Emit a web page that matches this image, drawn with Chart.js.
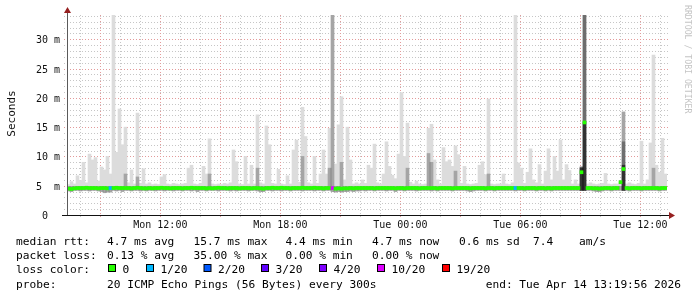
<!DOCTYPE html>
<html>
<head>
<meta charset="utf-8">
<script src="https://cdn.jsdelivr.net/npm/chart.js@4.4.1/dist/chart.umd.min.js"></script>
<style>
  html, body { margin: 0; padding: 0; background: #fff; }
  #wrap { width: 697px; height: 297px; }
</style>
</head>
<body>
<div id="wrap"><canvas id="smoke" width="697" height="297"></canvas></div>
<script>
// time window: Mon 07:20 -> Tue 13:20, one sample every 9 minutes
const startHour = 7 + 20 / 60;
const endHour = startHour + 30;
const yTop = 34.15;

const tickHours = [12, 18, 24, 30, 36];
const tickLabels = ['Mon 12:00', 'Mon 18:00', 'Tue 00:00', 'Tue 06:00', 'Tue 12:00'];
const yTicks = [0, 5, 10, 15, 20, 25, 30];

// highest ping of each sample (ms)
const pingMax = [
  5.2, 5.7, 5.3, 6.7, 5.9, 9.0, 5.5, 10.4, 9.4, 9.8, 5.8, 8.2, 7.7, 10.0, 7.0, 34.1, 10.7, 18.1, 12.0, 15.0,
  5.5, 7.7, 5.3, 17.4, 5.4, 7.9, 5.3, 5.5, 5.2, 5.3, 5.2, 6.5, 6.9, 5.3, 5.2, 5.4, 5.3, 5.2, 5.3, 5.4,
  8.0, 8.5, 5.3, 5.2, 5.4, 8.3, 7.0, 13.0, 5.3, 5.2, 5.3, 5.2, 5.4, 5.3, 5.5, 11.1, 9.1, 5.3, 5.2, 10.0,
  5.3, 8.5, 5.3, 17.1, 5.5, 5.3, 15.2, 12.0, 5.4, 5.3, 7.8, 5.3, 5.2, 6.7, 5.3, 11.1, 12.8, 5.6, 18.4, 13.4,
  5.5, 5.3, 10.0, 5.4, 7.0, 11.1, 7.0, 14.8, 34.2, 8.7, 15.4, 20.2, 6.0, 15.0, 9.4, 5.3, 5.5, 5.3, 6.0, 5.4,
  8.5, 8.0, 12.1, 5.5, 5.3, 7.0, 12.5, 8.3, 6.8, 6.2, 10.4, 20.9, 10.0, 15.7, 5.6, 5.3, 5.8, 5.3, 5.2, 5.3,
  14.8, 15.5, 9.4, 6.0, 5.3, 11.5, 9.1, 9.4, 8.3, 11.8, 10.3, 5.4, 8.3, 5.3, 5.2, 5.3, 5.4, 8.5, 9.1, 6.9,
  19.8, 5.3, 5.2, 5.3, 5.3, 7.0, 5.3, 5.2, 5.5, 34.1, 8.9, 8.0, 5.4, 7.3, 11.3, 6.0, 5.5, 8.6, 5.3, 7.5,
  11.3, 6.0, 10.0, 7.5, 12.8, 6.0, 8.6, 7.6, 5.3, 6.0, 5.3, 8.2, 34.2, 5.3, 5.5, 5.3, 5.2, 5.3, 5.4, 7.1,
  5.3, 5.2, 5.3, 5.3, 5.6, 17.6, 5.3, 5.5, 5.3, 5.2, 5.4, 12.6, 5.3, 6.0, 12.3, 27.3, 8.5, 7.3, 13.1, 7.0
];

// upper part of the ping spread (darker smoke)
const pingUpper = [
  4.9, 4.9, 4.9, 4.9, 4.9, 4.9, 4.9, 4.9, 4.9, 4.9, 4.9, 4.9, 4.9, 4.9, 4.9, 4.9, 4.9, 4.9, 4.9, 7.0,
  4.9, 4.9, 4.9, 6.5, 4.9, 4.9, 4.9, 4.9, 4.9, 4.9, 4.9, 4.9, 4.9, 4.9, 4.9, 4.9, 4.9, 4.9, 4.9, 4.9,
  4.9, 4.9, 4.9, 4.9, 4.9, 4.9, 4.9, 7.0, 4.9, 4.9, 4.9, 4.9, 4.9, 4.9, 4.9, 4.9, 4.9, 4.9, 4.9, 4.9,
  4.9, 4.9, 4.9, 8.0, 4.9, 4.9, 4.9, 4.9, 4.9, 4.9, 4.9, 4.9, 4.9, 4.9, 4.9, 4.9, 4.9, 4.9, 10.0, 4.9,
  4.9, 4.9, 4.9, 4.9, 4.9, 4.9, 4.9, 8.0, 34.2, 4.9, 4.9, 9.0, 4.9, 4.9, 4.9, 4.9, 4.9, 4.9, 4.9, 4.9,
  4.9, 4.9, 4.9, 4.9, 4.9, 4.9, 4.9, 4.9, 4.9, 4.9, 4.9, 4.9, 4.9, 8.0, 4.9, 4.9, 4.9, 4.9, 4.9, 4.9,
  10.5, 9.0, 4.9, 4.9, 4.9, 4.9, 4.9, 4.9, 4.9, 7.5, 4.9, 4.9, 4.9, 4.9, 4.9, 4.9, 4.9, 4.9, 4.9, 4.9,
  7.0, 4.9, 4.9, 4.9, 4.9, 4.9, 4.9, 4.9, 4.9, 4.9, 4.9, 4.9, 4.9, 4.9, 4.9, 4.9, 4.9, 4.9, 4.9, 4.9,
  4.9, 4.9, 4.9, 4.9, 4.9, 4.9, 4.9, 4.9, 4.9, 4.9, 4.9, 8.2, 34.2, 4.9, 4.9, 4.9, 4.9, 4.9, 4.9, 4.9,
  4.9, 4.9, 4.9, 4.9, 4.9, 17.6, 4.9, 4.9, 4.9, 4.9, 4.9, 4.9, 4.9, 4.9, 4.9, 8.0, 4.9, 4.9, 4.9, 4.9
];

// inner and core spread, only where most pings were slow (0 = none)
const pingInner = [
  0, 0, 0, 0, 0, 0, 0, 0, 0, 0, 0, 0, 0, 0, 0, 0, 0, 0, 0, 0,
  0, 0, 0, 0, 0, 0, 0, 0, 0, 0, 0, 0, 0, 0, 0, 0, 0, 0, 0, 0,
  0, 0, 0, 0, 0, 0, 0, 0, 0, 0, 0, 0, 0, 0, 0, 0, 0, 0, 0, 0,
  0, 0, 0, 0, 0, 0, 0, 0, 0, 0, 0, 0, 0, 0, 0, 0, 0, 0, 0, 0,
  0, 0, 0, 0, 0, 0, 0, 0, 0, 0, 0, 0, 0, 0, 0, 0, 0, 0, 0, 0,
  0, 0, 0, 0, 0, 0, 0, 0, 0, 0, 0, 0, 0, 0, 0, 0, 0, 0, 0, 0,
  0, 0, 0, 0, 0, 0, 0, 0, 0, 0, 0, 0, 0, 0, 0, 0, 0, 0, 0, 0,
  0, 0, 0, 0, 0, 0, 0, 0, 0, 0, 0, 0, 0, 0, 0, 0, 0, 0, 0, 0,
  0, 0, 0, 0, 0, 0, 0, 0, 0, 0, 0, 8.2, 34.2, 0, 0, 0, 0, 0, 0, 0,
  0, 0, 0, 0, 0, 12.5, 0, 0, 0, 0, 0, 0, 0, 0, 0, 0, 0, 0, 0, 0
];
const pingCore = [
  0, 0, 0, 0, 0, 0, 0, 0, 0, 0, 0, 0, 0, 0, 0, 0, 0, 0, 0, 0,
  0, 0, 0, 0, 0, 0, 0, 0, 0, 0, 0, 0, 0, 0, 0, 0, 0, 0, 0, 0,
  0, 0, 0, 0, 0, 0, 0, 0, 0, 0, 0, 0, 0, 0, 0, 0, 0, 0, 0, 0,
  0, 0, 0, 0, 0, 0, 0, 0, 0, 0, 0, 0, 0, 0, 0, 0, 0, 0, 0, 0,
  0, 0, 0, 0, 0, 0, 0, 0, 0, 0, 0, 0, 0, 0, 0, 0, 0, 0, 0, 0,
  0, 0, 0, 0, 0, 0, 0, 0, 0, 0, 0, 0, 0, 0, 0, 0, 0, 0, 0, 0,
  0, 0, 0, 0, 0, 0, 0, 0, 0, 0, 0, 0, 0, 0, 0, 0, 0, 0, 0, 0,
  0, 0, 0, 0, 0, 0, 0, 0, 0, 0, 0, 0, 0, 0, 0, 0, 0, 0, 0, 0,
  0, 0, 0, 0, 0, 0, 0, 0, 0, 0, 0, 8.0, 15.9, 0, 0, 0, 0, 0, 0, 0,
  0, 0, 0, 0, 0, 8.5, 0, 0, 0, 0, 0, 0, 0, 0, 0, 0, 0, 0, 0, 0
];

// lowest ping of each sample
const pingMin = [
  4.1, 4.0, 4.2, 4.2, 4.1, 4.2, 4.2, 4.1, 4.2, 4.2, 4.1, 4.0, 3.8, 3.9, 3.9, 4.2, 4.1, 4.2, 4.0, 4.2,
  4.2, 4.1, 4.2, 4.2, 4.1, 4.2, 4.1, 4.2, 4.2, 4.1, 4.2, 4.2, 4.1, 4.2, 4.2, 4.1, 4.2, 4.2, 4.1, 4.2,
  4.2, 4.1, 4.2, 4.0, 4.2, 4.2, 4.1, 4.2, 4.2, 4.2, 4.1, 4.2, 4.2, 4.2, 4.1, 4.2, 4.1, 4.2, 4.2, 4.2,
  4.1, 4.2, 4.2, 4.1, 4.0, 4.0, 4.2, 4.2, 4.1, 4.2, 4.2, 4.1, 4.2, 4.2, 4.1, 4.2, 4.2, 4.2, 4.1, 4.2,
  4.2, 4.2, 4.1, 4.2, 4.2, 4.1, 4.2, 4.2, 4.0, 3.9, 4.0, 3.9, 4.0, 4.0, 4.1, 4.0, 4.1, 4.1, 4.2, 4.1,
  4.2, 4.2, 4.1, 4.2, 4.2, 4.2, 4.1, 4.2, 4.2, 4.0, 4.2, 4.2, 4.1, 4.2, 4.2, 4.2, 4.1, 4.2, 4.2, 4.2,
  4.2, 4.1, 4.2, 4.1, 4.2, 4.2, 4.2, 4.2, 4.1, 4.2, 4.2, 4.2, 4.2, 4.1, 4.0, 4.1, 4.2, 4.2, 4.2, 4.1,
  4.2, 4.2, 4.1, 4.2, 4.2, 4.2, 4.2, 4.2, 4.2, 4.1, 4.2, 4.2, 4.1, 4.2, 4.2, 4.2, 4.1, 4.2, 4.2, 4.1,
  4.2, 4.1, 4.2, 4.2, 4.2, 4.2, 4.2, 4.2, 4.2, 4.2, 4.2, 4.2, 4.2, 4.2, 4.2, 4.1, 4.0, 4.0, 4.1, 4.2,
  4.2, 4.1, 4.2, 4.2, 4.2, 4.2, 4.2, 4.1, 4.2, 4.2, 4.2, 4.1, 4.2, 4.2, 4.2, 4.2, 4.2, 4.1, 4.2, 4.2
];

// median rtt of each sample
const medianRtt = [
  4.5, 4.45, 4.55, 4.6, 4.6, 4.6, 4.65, 4.6, 4.6, 4.6, 4.55, 4.6, 4.6, 4.55, 4.6, 4.6, 4.65, 4.6, 4.6, 4.6,
  4.6, 4.55, 4.6, 4.65, 4.6, 4.55, 4.55, 4.6, 4.55, 4.6, 4.6, 4.65, 4.6, 4.6, 4.55, 4.6, 4.6, 4.6, 4.55, 4.6,
  4.6, 4.65, 4.6, 4.6, 4.6, 4.6, 4.55, 4.6, 4.55, 4.6, 4.65, 4.6, 4.6, 4.55, 4.6, 4.6, 4.6, 4.55, 4.6, 4.6,
  4.6, 4.55, 4.6, 4.6, 4.55, 4.5, 4.6, 4.6, 4.65, 4.6, 4.6, 4.65, 4.6, 4.6, 4.55, 4.6, 4.6, 4.6, 4.65, 4.6,
  4.6, 4.6, 4.65, 4.6, 4.6, 4.55, 4.6, 4.6, 4.6, 4.5, 4.55, 4.5, 4.55, 4.55, 4.6, 4.55, 4.6, 4.6, 4.6, 4.6,
  4.6, 4.6, 4.55, 4.6, 4.6, 4.6, 4.6, 4.6, 4.6, 4.55, 4.6, 4.6, 4.55, 4.6, 4.6, 4.6, 4.6, 4.55, 4.6, 4.6,
  4.6, 4.6, 4.6, 4.55, 4.6, 4.6, 4.6, 4.6, 4.55, 4.6, 4.6, 4.6, 4.6, 4.6, 4.55, 4.6, 4.6, 4.6, 4.6, 4.55,
  4.6, 4.6, 4.55, 4.6, 4.6, 4.6, 4.6, 4.6, 4.6, 4.6, 4.6, 4.6, 4.55, 4.6, 4.6, 4.6, 4.55, 4.6, 4.6, 4.55,
  4.6, 4.55, 4.6, 4.6, 4.6, 4.6, 4.6, 4.6, 4.6, 4.6, 4.6, 7.3, 15.8, 4.6, 4.6, 4.55, 4.55, 4.5, 4.55, 4.6,
  4.6, 4.55, 4.6, 4.6, 5.6, 7.85, 4.6, 4.55, 4.6, 4.6, 4.6, 4.55, 4.6, 4.6, 4.6, 4.6, 4.6, 4.55, 4.6, 4.6
];

// lost pings bucket per sample (index into lossColors)
const lossLevel = [
  0, 0, 0, 0, 0, 0, 0, 0, 0, 0, 0, 0, 0, 0, 1, 0, 0, 0, 0, 0,
  0, 0, 0, 0, 0, 0, 0, 0, 0, 0, 0, 0, 0, 0, 0, 0, 0, 0, 0, 0,
  0, 0, 0, 0, 0, 0, 0, 0, 0, 0, 0, 0, 0, 0, 0, 0, 0, 0, 0, 0,
  0, 0, 0, 0, 0, 0, 0, 0, 0, 0, 0, 0, 0, 0, 0, 0, 0, 0, 0, 0,
  0, 0, 0, 0, 0, 0, 0, 0, 5, 0, 0, 0, 0, 0, 0, 0, 0, 0, 0, 0,
  0, 0, 0, 0, 0, 0, 0, 0, 0, 0, 0, 0, 0, 0, 0, 0, 0, 0, 0, 0,
  0, 0, 0, 0, 0, 0, 0, 0, 0, 0, 0, 0, 0, 0, 0, 0, 0, 0, 0, 0,
  0, 0, 0, 0, 0, 0, 0, 0, 0, 1, 0, 0, 0, 0, 0, 0, 0, 0, 0, 0,
  0, 0, 0, 0, 0, 0, 0, 0, 0, 0, 0, 0, 0, 0, 0, 0, 0, 0, 0, 0,
  0, 0, 0, 0, 0, 0, 0, 0, 0, 0, 0, 0, 0, 0, 0, 0, 0, 0, 0, 0
];

const lossLabels = ['0', '1/20', '2/20', '3/20', '4/20', '10/20', '19/20'];
const lossColors = ['#26ff00', '#00b8ff', '#0059ff', '#5e00ff', '#7e00ff', '#dd00ff', '#ff0000'];

const rttStats = ['4.7 ms avg', '15.7 ms max', '4.4 ms min', '4.7 ms now', '0.6 ms sd', '7.4', 'am/s'];
const lossStats = ['0.13 % avg', '35.00 % max', '0.00 % min', '0.00 % now'];
const probeText = '20 ICMP Echo Pings (56 Bytes) every 300s';
const endText = 'end: Tue Apr 14 13:19:56 2026';

// layout
const statCols = [107, 193.5, 285.5, 372, 459, 533, 579];
const lossBoxX = [108, 146, 203.5, 261, 319, 377, 442];
const mono = '"DejaVu Sans Mono", monospace';
const minorGrid = '#c6c6c6';
const majorGrid = '#e39a9a';
const arrowColor = '#962020';
const medianHalf = 0.26;

const sampleLabels = pingMax.map((_, i) => 'sample ' + i);

function range(lo, hi) {
  return hi.map((v, i) => (v > 0 ? [lo[i], v] : null));
}

function dotted(ctx, x1, y1, x2, y2, color) {
  ctx.save();
  ctx.strokeStyle = color;
  ctx.lineWidth = 1;
  ctx.setLineDash([1, 2]);
  ctx.beginPath();
  ctx.moveTo(x1, y1);
  ctx.lineTo(x2, y2);
  ctx.stroke();
  ctx.restore();
}

function label(ctx, str, x, y, font, color, align) {
  ctx.font = font;
  ctx.fillStyle = color;
  ctx.textAlign = align || 'left';
  ctx.textBaseline = 'alphabetic';
  ctx.fillText(str, x, y);
}

const smokeFrame = {
  id: 'smokeFrame',
  beforeDatasetsDraw(chart) {
    const { ctx, chartArea: a, scales } = chart;
    const y = scales.y;
    const xt = scales.xt;
    for (let v = 1; v <= Math.floor(yTop); v++) {
      const py = Math.round(y.getPixelForValue(v)) + 0.5;
      dotted(ctx, a.left - 3, py, a.right + 1, py, v % 5 ? minorGrid : majorGrid);
    }
    for (let h = Math.ceil(startHour); h <= endHour; h++) {
      const px = Math.round(xt.getPixelForValue(h)) + 0.5;
      dotted(ctx, px, a.top, px, a.bottom + 3, h % 3 ? minorGrid : majorGrid);
    }
  },
  afterDatasetsDraw(chart) {
    const { ctx, chartArea: a } = chart;
    const x0 = Math.round(a.left) + 0.5;
    const y0 = Math.round(a.bottom) + 0.5;
    ctx.save();
    ctx.lineWidth = 1;
    ctx.strokeStyle = '#5a5a5a';
    ctx.beginPath();
    ctx.moveTo(x0, y0);
    ctx.lineTo(x0, a.top - 3);
    ctx.stroke();
    ctx.strokeStyle = '#111';
    ctx.beginPath();
    ctx.moveTo(a.left - 5, y0);
    ctx.lineTo(a.right + 3, y0);
    ctx.stroke();
    ctx.fillStyle = arrowColor;
    ctx.beginPath();
    ctx.moveTo(x0 - 3.5, a.top - 2);
    ctx.lineTo(x0 + 3.5, a.top - 2);
    ctx.lineTo(x0, a.top - 8);
    ctx.closePath();
    ctx.fill();
    ctx.beginPath();
    ctx.moveTo(a.right + 2, y0 - 3.5);
    ctx.lineTo(a.right + 2, y0 + 3.5);
    ctx.lineTo(a.right + 8, y0);
    ctx.closePath();
    ctx.fill();
    ctx.restore();
  },
  afterDraw(chart) {
    const { ctx, scales } = chart;
    const y = scales.y;
    const xt = scales.xt;
    ctx.save();

    yTicks.forEach((v) => {
      const txt = v === 0 ? ' 0' : String(v).padEnd(2) + ' m';
      label(ctx, txt, 36, y.getPixelForValue(v) + 4, '10px ' + mono, '#111');
    });
    tickHours.forEach((h, i) => {
      label(ctx, tickLabels[i], xt.getPixelForValue(h), 228, '10px ' + mono, '#111', 'center');
    });

    ctx.save();
    ctx.translate(15, 113.5);
    ctx.rotate(-Math.PI / 2);
    label(ctx, 'Seconds', 0, 0, '11px ' + mono, '#111', 'center');
    ctx.restore();

    ctx.save();
    ctx.translate(684.5, 5);
    ctx.rotate(Math.PI / 2);
    label(ctx, 'RRDTOOL / TOBI OETIKER', 0, 0, '8.2px ' + mono, '#c4c4c4');
    ctx.restore();

    const f = '11.2px ' + mono;
    label(ctx, 'median rtt:', 16, 245, f, '#000');
    rttStats.forEach((s, i) => label(ctx, s, statCols[i], 245, f, '#000'));
    label(ctx, 'packet loss:', 16, 259, f, '#000');
    lossStats.forEach((s, i) => label(ctx, s, statCols[i], 259, f, '#000'));
    label(ctx, 'loss color:', 16, 273, f, '#000');
    lossLabels.forEach((s, i) => {
      const bx = lossBoxX[i];
      ctx.fillStyle = '#000';
      ctx.fillRect(bx, 264, 8, 8);
      ctx.fillStyle = lossColors[i];
      ctx.fillRect(bx + 1, 265, 6, 6);
      label(ctx, s, bx + 14.5, 273, f, '#000');
    });
    label(ctx, 'probe:', 16, 287.5, f, '#000');
    label(ctx, probeText, statCols[0], 287.5, f, '#000');
    label(ctx, endText, 681, 287.5, f, '#000', 'right');
    ctx.restore();
  }
};

const barBase = {
  type: 'bar',
  xAxisID: 'x',
  yAxisID: 'y',
  grouped: false,
  barPercentage: 1,
  categoryPercentage: 1,
  borderWidth: 0,
  borderSkipped: false
};

new Chart(document.getElementById('smoke'), {
  type: 'bar',
  data: {
    labels: sampleLabels,
    datasets: [
      Object.assign({}, barBase, {
        label: 'median',
        order: 0,
        data: medianRtt.map((m) => [m - medianHalf, m + medianHalf]),
        backgroundColor: (c) => lossColors[lossLevel[c.dataIndex] || 0]
      }),
      Object.assign({}, barBase, {
        label: 'core',
        order: 1,
        data: range(pingMin, pingCore),
        backgroundColor: 'rgba(0,0,0,0.54)'
      }),
      Object.assign({}, barBase, {
        label: 'inner',
        order: 2,
        data: range(pingMin, pingInner),
        backgroundColor: 'rgba(0,0,0,0.33)'
      }),
      Object.assign({}, barBase, {
        label: 'upper',
        order: 3,
        data: range(pingMin, pingUpper),
        backgroundColor: 'rgba(0,0,0,0.25)'
      }),
      Object.assign({}, barBase, {
        label: 'max',
        order: 4,
        data: range(pingMin, pingMax),
        backgroundColor: '#dcdcdc'
      })
    ]
  },
  options: {
    responsive: false,
    animation: false,
    events: [],
    layout: { padding: { left: 67, right: 30, top: 15, bottom: 82 } },
    plugins: { legend: { display: false }, tooltip: { enabled: false } },
    scales: {
      x: { type: 'category', display: false, offset: true },
      xt: { type: 'linear', axis: 'x', display: false, offset: false, min: startHour, max: endHour },
      y: { type: 'linear', display: false, min: 0, max: yTop }
    }
  },
  plugins: [smokeFrame]
});
</script>
</body>
</html>
